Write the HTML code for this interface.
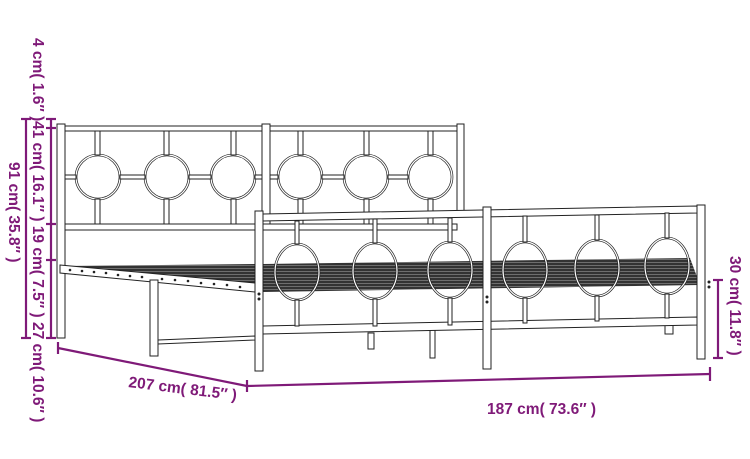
<!DOCTYPE html>
<html><head><meta charset="utf-8"><style>
html,body{margin:0;padding:0;background:#fff;}
svg{display:block;}
.t{font-family:"Liberation Sans",sans-serif;font-weight:bold;font-size:15.5px;fill:#7f1a78;}
</style></head><body>
<svg width="750" height="459" viewBox="0 0 750 459" xmlns="http://www.w3.org/2000/svg">
<defs>
<pattern id="sl" width="6" height="3" patternUnits="userSpaceOnUse">
<rect width="6" height="3" fill="#333"/><rect y="1" width="6" height="0.7" fill="#888"/>
</pattern>
</defs>
<g stroke="#222" stroke-width="1" fill="#fff">
<rect x="65" y="126" width="392" height="5"/>
<rect x="65" y="224" width="392" height="6"/>
<g fill="none" stroke="#222" stroke-width="2.6">
<circle cx="98" cy="177" r="22"/><circle cx="167" cy="177" r="22"/><circle cx="233" cy="177" r="22"/>
<circle cx="300" cy="177" r="22"/><circle cx="366" cy="177" r="22"/><circle cx="430" cy="177" r="22"/>
</g>
<g fill="none" stroke="#fff" stroke-width="1.2">
<circle cx="98" cy="177" r="22"/><circle cx="167" cy="177" r="22"/><circle cx="233" cy="177" r="22"/>
<circle cx="300" cy="177" r="22"/><circle cx="366" cy="177" r="22"/><circle cx="430" cy="177" r="22"/>
</g>
<g>
<rect x="95" y="131" width="5" height="24"/><rect x="95" y="199" width="5" height="25"/>
<rect x="164" y="131" width="5" height="24"/><rect x="164" y="199" width="5" height="25"/>
<rect x="231" y="131" width="5" height="24"/><rect x="231" y="199" width="5" height="25"/>
<rect x="298" y="131" width="5" height="24"/><rect x="298" y="199" width="5" height="25"/>
<rect x="364" y="131" width="5" height="24"/><rect x="364" y="199" width="5" height="25"/>
<rect x="428" y="131" width="5" height="24"/><rect x="428" y="199" width="5" height="25"/>
<rect x="65" y="175" width="11" height="4"/><rect x="120" y="175" width="25" height="4"/><rect x="189" y="175" width="22" height="4"/>
<rect x="255" y="175" width="8" height="4"/><rect x="270" y="175" width="8" height="4"/><rect x="322" y="175" width="22" height="4"/><rect x="388" y="175" width="20" height="4"/>
</g>
<rect x="57" y="124" width="8" height="214"/>
<rect x="262" y="124" width="8" height="100"/>
<rect x="457" y="124" width="7" height="90"/>
<polygon points="62,266 255,264 255,290" style="fill:url(#sl)" stroke="none"/>
<polygon points="263,264 690,258 700,285 263,292" style="fill:url(#sl)" stroke="none"/>
<polygon points="60,265 255,283 255,292 60,273" fill="#fff"/>
<g fill="#222" stroke="none">
<circle cx="70" cy="270" r="1.3"/><circle cx="82" cy="271" r="1.3"/><circle cx="94" cy="272" r="1.3"/><circle cx="106" cy="273" r="1.3"/><circle cx="118" cy="275" r="1.3"/><circle cx="130" cy="276" r="1.3"/><circle cx="142" cy="277" r="1.3"/>
<circle cx="162" cy="279" r="1.3"/><circle cx="175" cy="280" r="1.3"/><circle cx="188" cy="281" r="1.3"/><circle cx="201" cy="283" r="1.3"/><circle cx="214" cy="284" r="1.3"/><circle cx="227" cy="285" r="1.3"/><circle cx="240" cy="287" r="1.3"/>
</g>
<rect x="150" y="280" width="8" height="76"/>
<polygon points="158,340 255,336 255,340 158,344"/>
<rect x="368" y="333" width="6" height="16"/><rect x="430" y="330" width="5" height="28"/><rect x="665" y="320" width="8" height="14"/>
<polygon points="263,214 697,206 697,213 263,221"/>
<polygon points="263,326 697,317 697,325 263,334"/>
<g fill="none" stroke="#222" stroke-width="2.6">
<ellipse cx="297" cy="272" rx="22" ry="28"/><ellipse cx="375" cy="271" rx="22" ry="28"/><ellipse cx="450" cy="270" rx="22" ry="28"/>
<ellipse cx="525" cy="270" rx="22" ry="28"/><ellipse cx="597" cy="268" rx="22" ry="28"/><ellipse cx="667" cy="266" rx="22" ry="28"/>
</g>
<g fill="none" stroke="#fff" stroke-width="1.2">
<ellipse cx="297" cy="272" rx="22" ry="28"/><ellipse cx="375" cy="271" rx="22" ry="28"/><ellipse cx="450" cy="270" rx="22" ry="28"/>
<ellipse cx="525" cy="270" rx="22" ry="28"/><ellipse cx="597" cy="268" rx="22" ry="28"/><ellipse cx="667" cy="266" rx="22" ry="28"/>
</g>
<rect x="295" y="221" width="4" height="23"/><rect x="295" y="300" width="4" height="26"/>
<rect x="373" y="219" width="4" height="24"/><rect x="373" y="299" width="4" height="27"/>
<rect x="448" y="218" width="4" height="24"/><rect x="448" y="298" width="4" height="27"/>
<rect x="523" y="216" width="4" height="26"/><rect x="523" y="298" width="4" height="25"/>
<rect x="595" y="215" width="4" height="25"/><rect x="595" y="296" width="4" height="25"/>
<rect x="665" y="213" width="4" height="25"/><rect x="665" y="294" width="4" height="24"/>
<rect x="255" y="211" width="8" height="160"/>
<rect x="483" y="207" width="8" height="162"/>
<rect x="697" y="205" width="8" height="154"/>
<g fill="#222" stroke="none">
<circle cx="259" cy="294" r="1.5"/><circle cx="259" cy="299" r="1.5"/>
<circle cx="487" cy="297" r="1.5"/><circle cx="487" cy="302" r="1.5"/>
<circle cx="709" cy="282" r="1.5"/><circle cx="709" cy="287" r="1.5"/>
</g>
</g>
<g stroke="#7f1a78" stroke-width="2.2" fill="none">
<line x1="26" y1="119" x2="26" y2="338"/><line x1="21" y1="119" x2="31" y2="119"/><line x1="21" y1="338" x2="31" y2="338"/>
<line x1="51" y1="119" x2="51" y2="338"/>
<line x1="46" y1="119" x2="56" y2="119"/><line x1="46" y1="128" x2="56" y2="128"/><line x1="46" y1="224" x2="56" y2="224"/><line x1="46" y1="260" x2="56" y2="260"/><line x1="46" y1="338" x2="56" y2="338"/>
<line x1="58" y1="342" x2="58" y2="354"/>
<line x1="58" y1="348" x2="247" y2="386"/>
<line x1="247" y1="386" x2="710" y2="374"/>
<line x1="247" y1="380" x2="247" y2="392"/><line x1="710" y1="367" x2="710" y2="381"/>
<line x1="718" y1="280" x2="718" y2="358"/><line x1="713" y1="280" x2="723" y2="280"/><line x1="713" y1="358" x2="723" y2="358"/>
</g>
<text class="t" transform="translate(33,38) rotate(90)">4 cm( 1.6″ )</text>
<text class="t" transform="translate(33,121) rotate(90)">41 cm( 16.1″ ) 19 cm( 7.5″ ) 27 cm( 10.6″ )</text>
<text class="t" transform="translate(9,162) rotate(90)">91 cm( 35.8″ )</text>
<text class="t" transform="translate(730,256) rotate(90)">30 cm( 11.8″ )</text>
<text class="t" transform="translate(128,387) rotate(7)">207 cm( 81.5″ )</text>
<text class="t" x="487" y="414">187 cm( 73.6″ )</text>
</svg>
</body></html>
